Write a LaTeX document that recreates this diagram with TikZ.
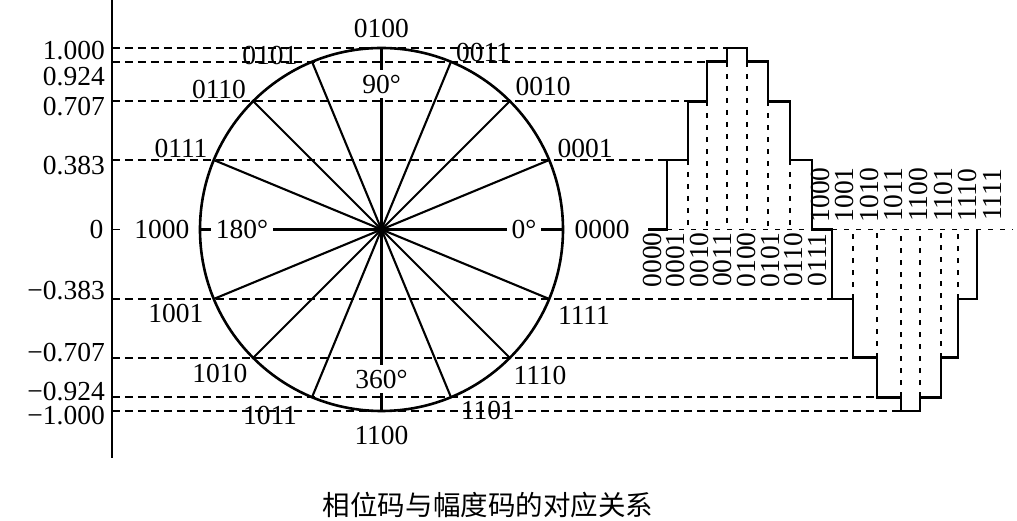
\documentclass[tikz,border=0pt]{standalone}
\usepackage{fontspec}
\setmainfont{Liberation Serif}
\newfontfamily\cjk{Noto Sans CJK SC}
\usetikzlibrary{calc}
\tikzset{
    wheel/.style={line width=2.6pt},
    spoke/.style={line width=2.1pt},
    levelline/.style={line width=1.5pt, dash pattern=on 8pt off 5pt},
    gridline/.style={line width=1.4pt, dash pattern=on 5pt off 7pt},
    stair/.style={line width=2.8pt, line join=miter},
    code/.style={font=\fontsize{27.5}{28}\selectfont, inner sep=0pt},
    anglelabel/.style={code, fill=white, inner sep=5pt},
    levellabel/.style={code, anchor=east},
    vcode/.style={code, rotate=90},
}

\begin{document}
\begin{tikzpicture}[x=1pt, y=1pt]
\useasboundingbox (-381.5,-291.5) rectangle (635.5,229.5);
\def\R{181.5}
\pgfmathsetmacro\La{0.383*\R}
\pgfmathsetmacro\Lb{0.707*\R}
\pgfmathsetmacro\Lc{0.924*\R}

% amplitude axis
\draw[line width=1.8pt] (-269.5,229.5) coordinate (axtop) -- (-269.5,-228.5) coordinate (axbot);
\draw[line width=1.8pt] (-269.5,0) -- ++(8,0);
\node[levellabel] (lv0) at (-278,0) {0};

% amplitude levels
\foreach \v/\txt/\xend/\ly [count=\i] in {1/1.000/345.5/179, 0.924/0.924/325.5/152.5,
        0.707/0.707/306.5/122.5, 0.383/0.383/285.5/63.5, -0.383/−0.383/450.5/-61.5,
        -0.707/−0.707/471.5/-123.5, -0.924/−0.924/495.5/-162, -1/−1.000/519.5/-186}
{
    \draw[levelline] (-269.5,{\v*\R}) -- (\xend,{\v*\R});
    \node[levellabel] (lv\i) at (-276.5,\ly) {\txt};
}

% phase circle
\draw[wheel] (0,0) circle (\R);
\foreach \a in {0,22.5,...,337.5}
    \draw[spoke] (0,0) -- (\a:\R);
\node[anglelabel] (deg90)  at (0,145.5)    {90°};
\node[anglelabel] (deg180) at (-139.5,0)   {180°};
\node[anglelabel] (deg0)   at (142.5,0)    {0°};
\node[anglelabel] (deg360) at (0,-149.5)   {360°};

% phase codes
\foreach \c/\x/\y in {0000/220.5/0.5, 0001/203.5/81.5, 0010/161.5/143.5, 0011/101.5/177.5,
        0100/0/201.5, 0101/-111.5/174.5, 0110/-162.5/140.5, 0111/-200.5/81.5,
        1000/-219.5/0.5, 1001/-205.5/-83.5, 1010/-161.5/-143.5, 1011/-111.5/-185.5,
        1100/0/-205.5, 1101/106.5/-180.5, 1110/158.5/-145.5, 1111/202.5/-85.5}
    \node[code] (ph\c) at (\x,\y) {\c};

% sampled sine wave
\draw[gridline] (285.5,0) -- (430.5,0);
\draw[gridline] (450.5,0) -- (631.5,0);
\foreach \x/\h in {306.5/\La, 325.5/\Lb, 345.5/\Lc, 365.5/\Lc, 386.5/\Lb, 408.5/\La,
        471.5/-\La, 495.5/-\Lb, 519.5/-\Lc, 538.5/-\Lc, 559.5/-\Lb, 576.5/-\La}
    \draw[gridline] (\x,\h) -- (\x,0);
\draw[stair] (266.5,0) -- (285.5,0) |- (306.5,\La) |- (325.5,\Lb) |- (345.5,\Lc)
    |- (365.5,\R) |- (386.5,\Lc) |- (408.5,\Lb) |- (430.5,\La) |- (450.5,0)
    |- (471.5,-\La) |- (495.5,-\Lb) |- (519.5,-\Lc) |- (538.5,-\R) |- (559.5,-\Lc)
    |- (576.5,-\Lb) |- (595.5,-\La) -- (595.5,0);

% amplitude codes
\foreach \c [count=\k from 0] in {0000,0001,0010,0011,0100,0101,0110,0111}
    \node[vcode] (am\c) at ({270.5+23.6*\k},-30.5) {\c};
\foreach \c [count=\k from 0] in {1000,1001,1010,1011,1100,1101,1110,1111}
    \node[vcode] (am\c) at ({438.5+24.6*\k},34.5) {\c};

% caption
\node[font=\cjk\fontsize{27.5}{28}\selectfont, inner sep=0pt] (title) at (106.5,-275.5)
    {相位码与幅度码的对应关系};

\end{tikzpicture}
\end{document}
